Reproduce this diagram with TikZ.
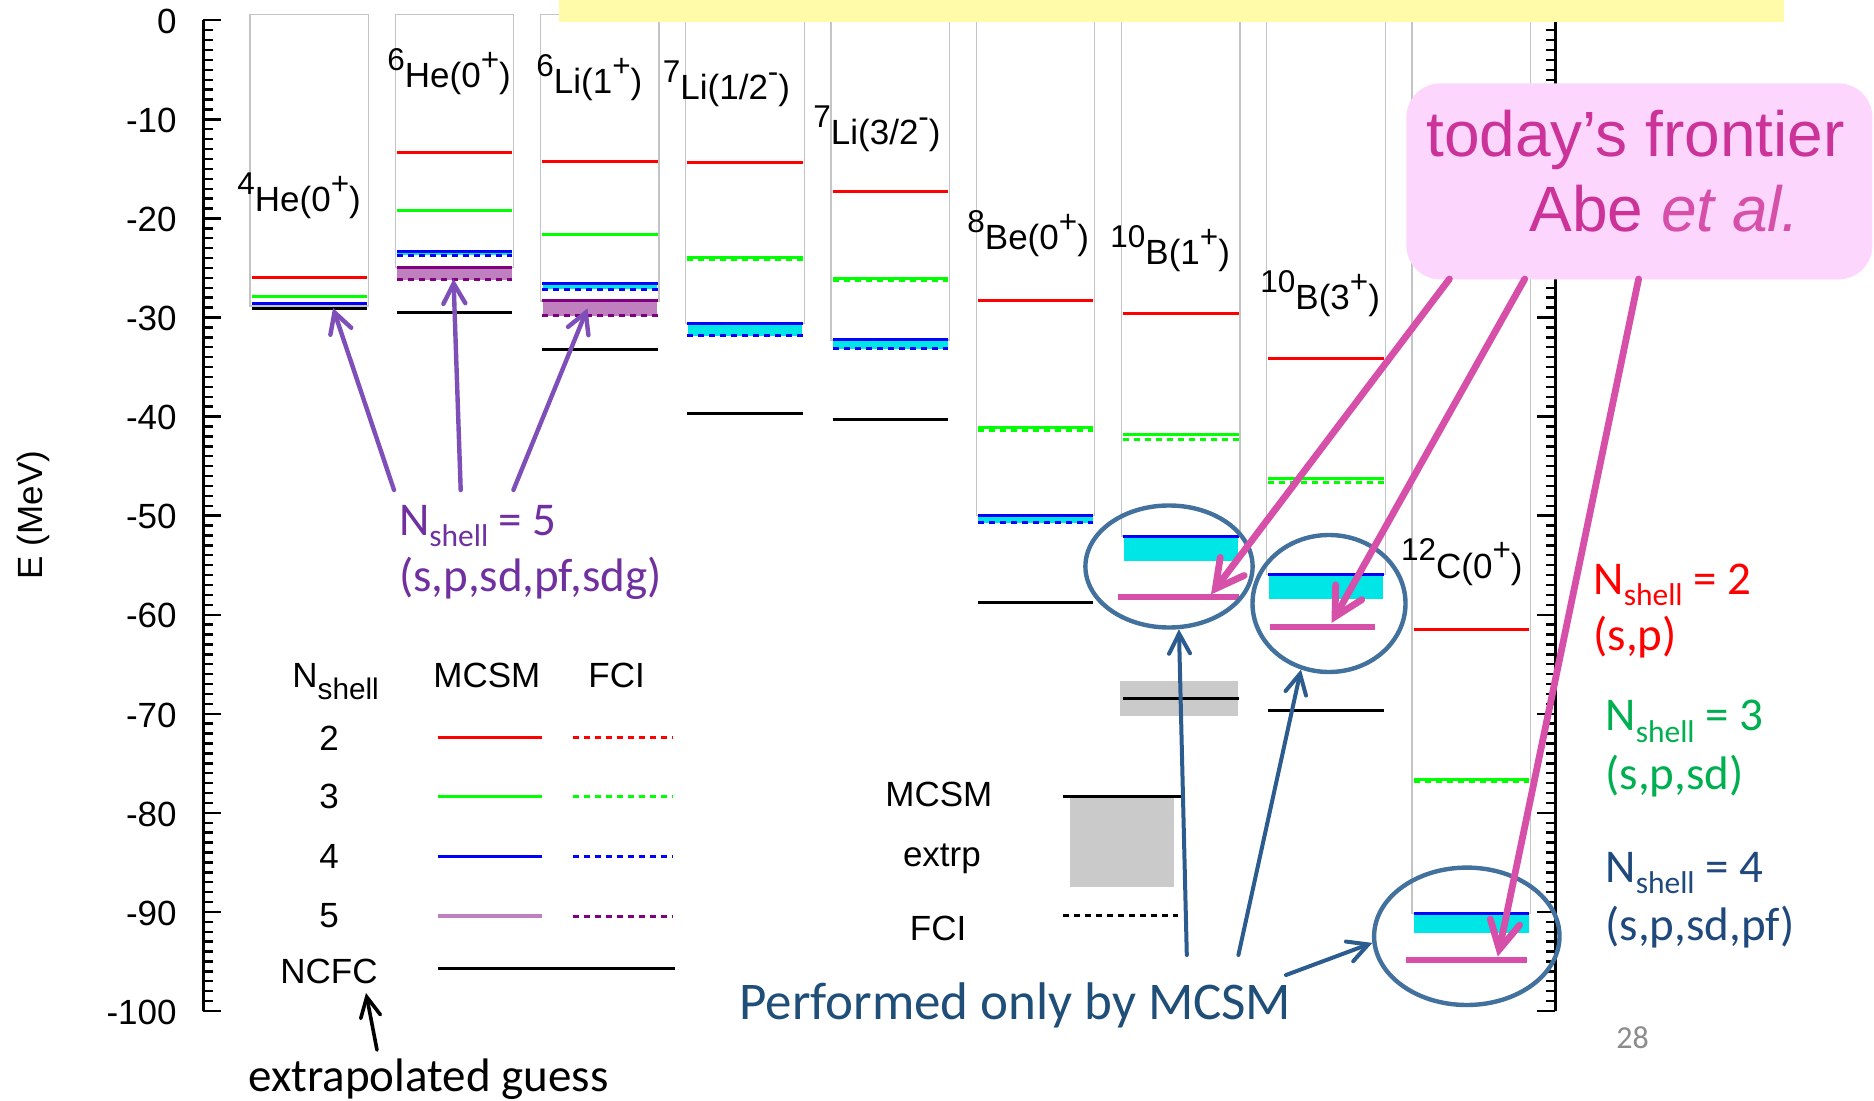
\documentclass[tikz,border=0pt]{standalone}
\usepackage{fontspec}
\setmainfont{Liberation Sans}
\newfontfamily\plotfont{Liberation Sans}
\newfontfamily\calfont{Carlito}
\usetikzlibrary{arrows.meta,shapes.geometric}

% level colours
\definecolor{lvred}{RGB}{255,0,0}
\definecolor{lvgreen}{RGB}{0,255,0}
\definecolor{lvblue}{RGB}{0,0,255}
\definecolor{lvcyan}{RGB}{0,229,229}
\definecolor{lvpurple}{RGB}{128,0,128}
\definecolor{lvband}{RGB}{192,128,192}
\definecolor{framegray}{RGB}{196,196,196}
\definecolor{extgray}{RGB}{202,202,202}
% annotation colours
\definecolor{annpurple}{RGB}{112,48,160}
\definecolor{annpurplearrow}{RGB}{127,79,185}
\definecolor{fronttext}{RGB}{204,51,153}
\definecolor{frontarrow}{RGB}{214,80,170}
\definecolor{frontbg}{RGB}{253,214,253}
\definecolor{ringblue}{RGB}{65,113,156}
\definecolor{mcsmtext}{RGB}{31,78,121}
\definecolor{mcsmarrow}{RGB}{44,92,143}
\definecolor{leggreen}{RGB}{0,176,80}
\definecolor{legblue}{RGB}{31,73,125}
\definecolor{notegold}{RGB}{255,251,168}
\definecolor{pagenum}{RGB}{140,140,140}

% raised / lowered small text
\newcommand\supt[1]{\raisebox{0.5em}{\scalebox{0.9}{#1}}}
\newcommand\subp[1]{\raisebox{-0.35em}{\scalebox{0.85}{#1}}}
\newcommand\subc[1]{\raisebox{-0.24em}{\scalebox{0.67}{#1}}}

% column k starts at x = 250 + 145.25 k and is 118.5 wide
\newcommand\levline[3]{\draw[#1] ({251.5+145.25*#2},#3) -- ({367+145.25*#2},#3);}
\newcommand\levfill[4]{\fill[#1] ({252+145.25*#2},#3) rectangle ({366.5+145.25*#2},#4);}
\newcommand\drawcol[2]{\draw[colframe] ({250+145.25*#1},14.7) rectangle ({368.5+145.25*#1},#2);}

\tikzset{
  colframe/.style={draw=framegray, line width=0.6pt},
  lvl/.style={line width=1.5pt},
  fci/.style={line width=1.5pt, dash pattern=on 3pt off 2.5pt},
  resline/.style={draw=frontarrow, line width=3pt},
  axisline/.style={line width=1.5pt},
  axtick/.style={line width=1.2pt},
  plottext/.style={font=\plotfont\fontsize{17.5pt}{20pt}\selectfont, inner sep=0pt},
  caltext/.style={font=\calfont\fontsize{23.5pt}{27pt}\selectfont, inner sep=0pt},
  ring/.style={ellipse, draw=ringblue, line width=2.2pt, inner sep=0pt},
  purplearrow/.style={draw=annpurplearrow, line width=2.2pt, line cap=round,
    -{Straight Barb[length=10pt,width=11pt,line cap=round]}},
  pinkarrow/.style={draw=frontarrow, line width=3.4pt, line cap=round,
    -{Straight Barb[length=14pt,width=15pt,line cap=round]}},
  bluearrow/.style={draw=mcsmarrow, line width=2pt, line cap=round,
    -{Straight Barb[length=10pt,width=10.5pt,line cap=round]}},
  blackarrow/.style={draw=black, line width=1.8pt, line cap=round,
    -{Straight Barb[length=10pt,width=10pt,line cap=round]}},
}

\begin{document}
\begin{tikzpicture}[x=0.5pt,y=-0.5pt]
\path[use as bounding box] (0,0) rectangle (1874,1101);
\fill[white] (0,0) rectangle (1874,1101);

% ---------- column frames ----------
\drawcol{0}{306}
\drawcol{1}{267.7}
\drawcol{2}{301}
\drawcol{3}{323.3}
\drawcol{4}{340}
\drawcol{5}{515.7}
\drawcol{6}{536}
\drawcol{7}{574.3}
\drawcol{8}{913.2}

% ---------- 4He ----------
\levline{lvl,lvred}{0}{277.7}
\levline{lvl,lvgreen}{0}{296.7}
\levline{lvl,lvblue}{0}{303.5}
\levline{lvl,black}{0}{308.3}
% ---------- 6He ----------
\levfill{lvcyan}{1}{251.7}{255.5}
\levfill{lvband}{1}{267.7}{280}
\levline{lvl,lvred}{1}{153}
\levline{lvl,lvgreen}{1}{210.3}
\levline{lvl,lvblue}{1}{251.7}
\levline{fci,lvblue}{1}{255.5}
\levline{lvl,lvpurple}{1}{267.7}
\levline{fci,lvpurple}{1}{280}
\levline{lvl,black}{1}{312.7}
% ---------- 6Li ----------
\levfill{lvcyan}{2}{284}{289.3}
\levfill{lvband}{2}{301}{315.7}
\levline{lvl,lvred}{2}{161.7}
\levline{lvl,lvgreen}{2}{235}
\levline{lvl,lvblue}{2}{284}
\levline{fci,lvblue}{2}{289.3}
\levline{lvl,lvpurple}{2}{301}
\levline{fci,lvpurple}{2}{315.7}
\levline{lvl,black}{2}{350}
% ---------- 7Li(1/2-) ----------
\levfill{lvcyan}{3}{323.3}{335.7}
\levline{lvl,lvred}{3}{163}
\levline{lvl,lvgreen}{3}{257.7}
\levline{fci,lvgreen}{3}{260}
\levline{lvl,lvblue}{3}{323.3}
\levline{fci,lvblue}{3}{335.7}
\levline{lvl,black}{3}{413.7}
% ---------- 7Li(3/2-) ----------
\levfill{lvcyan}{4}{340}{348.7}
\levline{lvl,lvred}{4}{191.7}
\levline{lvl,lvgreen}{4}{278.3}
\levline{fci,lvgreen}{4}{280.6}
\levline{lvl,lvblue}{4}{340}
\levline{fci,lvblue}{4}{348.7}
\levline{lvl,black}{4}{419.3}
% ---------- 8Be ----------
\levfill{lvcyan}{5}{515.7}{522.7}
\levline{lvl,lvred}{5}{301}
\levline{lvl,lvgreen}{5}{427.7}
\levline{fci,lvgreen}{5}{430.5}
\levline{lvl,lvblue}{5}{515.7}
\levline{fci,lvblue}{5}{522.7}
\levline{lvl,black}{5}{602}
% ---------- 10B(1+) ----------
\levfill{lvcyan}{6}{536}{560.7}
\levline{lvl,lvred}{6}{313.7}
\levline{lvl,lvgreen}{6}{435}
\levline{fci,lvgreen}{6}{439.7}
\levline{lvl,lvblue}{6}{536}
\fill[extgray] (1120,681) rectangle (1237.5,716);
\levline{lvl,black}{6}{698.7}
\draw[resline] (1118,596.7) -- (1239,596.7);
% ---------- 10B(3+) ----------
\levfill{lvcyan}{7}{574.3}{599.3}
\levline{lvl,lvred}{7}{359}
\levline{lvl,lvgreen}{7}{479}
\levline{fci,lvgreen}{7}{482.3}
\levline{lvl,lvblue}{7}{574.3}
\levline{lvl,black}{7}{710}
\draw[resline] (1269.6,627.3) -- (1375,627.3);
% ---------- 12C ----------
\levfill{lvcyan}{8}{913.2}{932.8}
\levline{lvl,lvred}{8}{629.8}
\levline{lvl,lvgreen}{8}{779}
\levline{fci,lvgreen}{8}{781.5}
\levline{lvl,lvblue}{8}{913.2}
\draw[resline] (1405.5,959.7) -- (1527,959.7);

% ---------- axes ----------
\draw[axisline] (203,20.3) -- (203,1011);
\draw[axisline] (1555,20.3) -- (1555,1011);
\foreach \k in {0,...,100}{
  \draw[axtick] (203,{20.3+9.907*\k}) -- ++(9.5,0);
  \draw[axtick] (1555,{20.3+9.907*\k}) -- ++(-9.5,0);
}
\foreach \k in {0,10,...,100}{
  \draw[axtick] (203,{20.3+9.907*\k}) -- ++(18,0);
  \draw[axtick] (1555,{20.3+9.907*\k}) -- ++(-18,0);
  \node[plottext, anchor=east] (ytick\k) at (177,{21.5+9.907*\k}) {\ifnum\k=0 0\else -\k\fi};
}
\node[plottext, rotate=90] (ylabel) at (33,515) {E (MeV)};

% ---------- nucleus labels ----------
\node[plottext, anchor=base west] (he4) at (237,212) {\supt{4}He(0\supt{+})};
\node[plottext, anchor=base west] (he6) at (387,88) {\supt{6}He(0\supt{+})};
\node[plottext, anchor=base west] (li6) at (536,94) {\supt{6}Li(1\supt{+})};
\node[plottext, anchor=base west] (li7a) at (662.5,100) {\supt{7}Li(1/2\supt{-})};
\node[plottext, anchor=base west] (li7b) at (813,145) {\supt{7}Li(3/2\supt{-})};
\node[plottext, anchor=base west] (be8) at (967,250) {\supt{8}Be(0\supt{+})};
\node[plottext, anchor=base west] (b10a) at (1110,265) {\supt{10}B(1\supt{+})};
\node[plottext, anchor=base west] (b10b) at (1260,310) {\supt{10}B(3\supt{+})};
\node[plottext, anchor=base west] (c12) at (1400.7,578) {\supt{12}C(0\supt{+})};

% ---------- line legend ----------
\node[plottext, anchor=base west] (legN) at (292,687) {N\subp{shell}};
\node[plottext, anchor=base west] (legM) at (433,687) {MCSM};
\node[plottext, anchor=base west] (legF) at (588,687) {FCI};
\node[plottext] (leg2) at (329,738) {2};
\node[plottext] (leg3) at (329,796.7) {3};
\node[plottext] (leg4) at (329,856) {4};
\node[plottext] (leg5) at (329,916) {5};
\node[plottext] (legNC) at (329,971.5) {NCFC};
\draw[lvl,lvred] (437.5,737.7) -- (541.5,737.7);
\draw[fci,lvred] (572.7,737.7) -- (673,737.7);
\draw[lvl,lvgreen] (437.5,796.7) -- (541.5,796.7);
\draw[fci,lvgreen] (572.7,796.7) -- (673,796.7);
\draw[lvl,lvblue] (437.5,856) -- (541.5,856);
\draw[fci,lvblue] (572.7,856) -- (673,856);
\draw[line width=2.2pt,lvband] (437.5,916) -- (541.5,916);
\draw[fci,lvpurple] (572.7,916) -- (673,916);
\draw[lvl,black] (437.5,968.3) -- (675.4,968.3);

% ---------- extrapolation legend ----------
\node[plottext, anchor=base west] (exM) at (885,806.7) {MCSM};
\node[plottext, anchor=base west] (exE) at (902.6,866) {extrp};
\node[plottext, anchor=base west] (exF) at (909.5,940) {FCI};
\fill[extgray] (1070,798) rectangle (1174,886.7);
\draw[lvl,black] (1063,796.7) -- (1181,796.7);
\draw[fci,black] (1063,915.7) -- (1178,915.7);

% ---------- top note strip ----------
\fill[notegold] (559,0) rectangle (1784,21.7);

% ---------- purple annotation ----------
\node[caltext, text=annpurple, anchor=base west] (n5a) at (398.6,535) {N\subc{shell} = 5};
\node[caltext, text=annpurple, anchor=base west] (n5b) at (398.6,591) {(s,p,sd,pf,sdg)};
\coordinate (pa1) at (394,490);
\coordinate (pa2) at (460.7,490);
\coordinate (pa3) at (513.4,490);
\coordinate (pt1) at (333,308);
\coordinate (pt2) at (453.5,279);
\coordinate (pt3) at (587.5,308.3);
\draw[purplearrow] (pa1) -- (pt1);
\draw[purplearrow] (pa2) -- (pt2);
\draw[purplearrow] (pa3) -- (pt3);

% ---------- extrapolated guess ----------
\node[caltext, anchor=base west] (guess) at (248,1091.7) {extrapolated guess};
\coordinate (ga) at (377,1050);
\coordinate (gt) at (366,993);
\draw[blackarrow] (ga) -- (gt);

% ---------- rings around MCSM-only results ----------
\node[ring, minimum width=83.6pt, minimum height=61pt] (ring1) at (1169,566.5) {};
\node[ring, minimum width=76.5pt, minimum height=68.5pt] (ring2) at (1329,603.5) {};
\node[ring, minimum width=92.7pt, minimum height=68.7pt] (ring3) at (1466.8,936.3) {};

\node[font=\calfont\fontsize{26.5pt}{30pt}\selectfont, inner sep=0pt, text=mcsmtext, anchor=base west]
  (perf) at (739,1019) {Performed only by MCSM};
\coordinate (ba1) at (1186.8,955);
\coordinate (ba2) at (1238.4,955);
\coordinate (ba3) at (1286,975);
\draw[bluearrow] (ba1) -- (ring1.279);
\draw[bluearrow] (ba2) -- (ring2.247);
\draw[bluearrow] (ba3) -- (ring3.184);

% ---------- frontier box ----------
\node[fill=frontbg, rounded corners=17pt, minimum width=233pt, minimum height=98pt,
  inner sep=0pt, anchor=north west] (front) at (1406,83) {};
\node[font=\fontsize{32pt}{36pt}\selectfont, inner sep=0pt, text=fronttext, anchor=base west]
  (frontA) at (1425.8,156.7) {today’s frontier};
\node[font=\fontsize{32pt}{36pt}\selectfont, inner sep=0pt, text=fronttext, anchor=base west]
  (frontB) at (1529,231.7) {Abe \textcolor{frontarrow}{\textit{et al.}}};
\coordinate (fa1) at (1449.4,279);
\coordinate (fa2) at (1524.7,279);
\coordinate (fa3) at (1638.6,279);
\coordinate (ft1) at (1211,594.5);
\coordinate (ft2) at (1331.5,623);
\coordinate (ft3) at (1497.8,956.5);
\draw[pinkarrow] (fa1) -- (ft1);
\draw[pinkarrow] (fa2) -- (ft2);
\draw[pinkarrow] (fa3) -- (ft3);

% ---------- right-hand legend ----------
\node[caltext, text=lvred, anchor=base west] (r2a) at (1593,594.5) {N\subc{shell} = 2};
\node[caltext, text=lvred, anchor=base west] (r2b) at (1593,650) {(s,p)};
\node[caltext, text=leggreen, anchor=base west] (r3a) at (1605,730.8) {N\subc{shell} = 3};
\node[caltext, text=leggreen, anchor=base west] (r3b) at (1605,789) {(s,p,sd)};
\node[caltext, text=legblue, anchor=base west] (r4a) at (1605,882) {N\subc{shell} = 4};
\node[caltext, text=legblue, anchor=base west] (r4b) at (1605,940) {(s,p,sd,pf)};

\node[font=\calfont\fontsize{16pt}{18pt}\selectfont, inner sep=0pt, text=pagenum, anchor=base west]
  (pgno) at (1616,1048) {28};
\end{tikzpicture}
\end{document}
